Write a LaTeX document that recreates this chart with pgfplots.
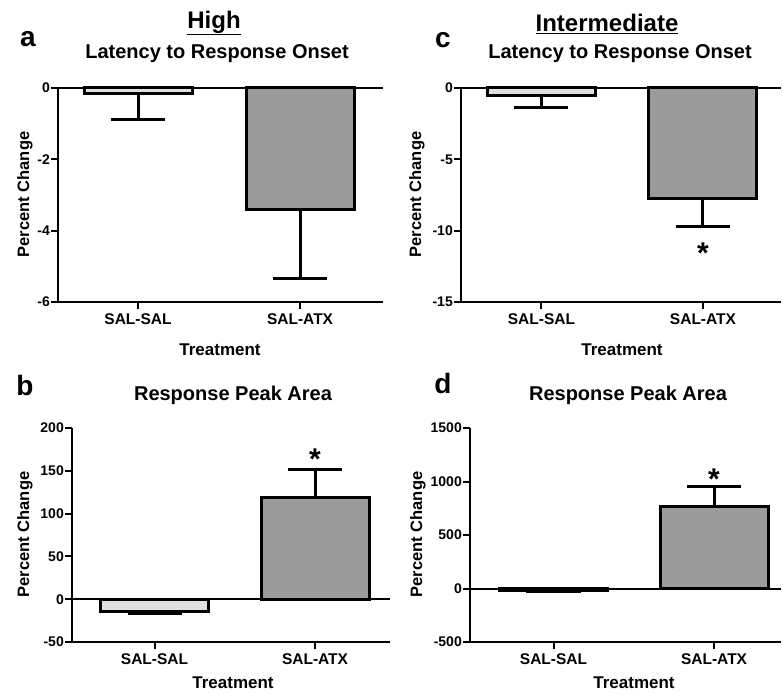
\documentclass[border=0pt]{standalone}
\usepackage{pgfplots}
\pgfplotsset{compat=1.18}
\usepackage{fontspec}
\setmainfont{Liberation Sans}
\definecolor{lightbar}{HTML}{E0E0E0}
\definecolor{darkbar}{HTML}{9A9B9A}
\newcommand{\fs}[1]{\fontsize{#1}{#1}\selectfont\bfseries}
\pgfplotsset{
  panel/.style={
    scale only axis, height=214pt,
    axis lines*=left,
    axis line style={line width=2pt, black},
    tick align=outside, major tick length=7pt,
    tick style={line width=2pt, black},
    xtick={0,1}, xticklabels={SAL-SAL,SAL-ATX},
    xticklabel style={font=\fs{15.5}, yshift=-1pt},
    yticklabel style={font=\fs{14}, inner xsep=1pt},
    /pgf/number format/assume math mode=true,
    /pgf/number format/set thousands separator={},
    ybar, bar width=108pt, bar shift=0pt,
    clip=false,
    extra y ticks={0}, extra y tick labels={},
    extra y tick style={grid=major, major grid style={line width=2pt, black}},
    error bars/error bar style={line width=3pt, black},
    error bars/error mark options={line width=3pt, black, mark size=27pt, rotate=90},
  },
  lbar/.style={fill=lightbar, draw=black, line width=3pt},
  dbar/.style={fill=darkbar, draw=black, line width=3pt},
}
\tikzset{star/.style={font=\fs{30}, yshift=-8pt}}
\begin{document}
\begin{tikzpicture}[x=1pt,y=1pt]
\useasboundingbox (0,0) rectangle (783,693);
% panel a
\begin{axis}[panel, at={(58pt,391pt)}, anchor=south west, width=325pt,
  xmin=-0.494, xmax=1.512, ymin=-6, ymax=0, ytick={-6,-4,-2,0}]
\addplot+[lbar, error bars/.cd, y dir=minus, y explicit] coordinates {(0,-0.15) -= (0,0.72)};
\addplot+[dbar, error bars/.cd, y dir=minus, y explicit] coordinates {(1,-3.41) -= (0,1.92)};
\end{axis}
% panel c
\begin{axis}[panel, at={(461pt,391pt)}, anchor=south west, width=320pt,
  xmin=-0.498, xmax=1.483, ymin=-15, ymax=0, ytick={-15,-10,-5,0}]
\addplot+[lbar, error bars/.cd, y dir=minus, y explicit] coordinates {(0,-0.56) -= (0,0.84)};
\addplot+[dbar, error bars/.cd, y dir=minus, y explicit] coordinates {(1,-7.74) -= (0,1.96)};
\node[star] at (axis cs:1,-11.0) {*};
\end{axis}
% panel b
\begin{axis}[panel, at={(72pt,51pt)}, anchor=south west, width=318pt,
  xmin=-0.514, xmax=1.467, ymin=-50, ymax=200, ytick={-50,0,50,100,150,200}]
\addplot+[lbar, error bars/.cd, y dir=minus, y explicit] coordinates {(0,-14) -= (0,3)};
\addplot+[dbar, error bars/.cd, y dir=plus, y explicit] coordinates {(1,119) += (0,33)};
\node[star] at (axis cs:1,173) {*};
\end{axis}
% panel d
\begin{axis}[panel, at={(470pt,51pt)}, anchor=south west, width=311pt,
  xmin=-0.52, xmax=1.417, ymin=-500, ymax=1500, ytick={-500,0,500,1000,1500}]
\addplot+[lbar, error bars/.cd, y dir=minus, y explicit] coordinates {(0,-20) -= (0,10)};
\addplot+[dbar, error bars/.cd, y dir=plus, y explicit] coordinates {(1,763) += (0,186)};
\node[star] at (axis cs:1,1098) {*};
\end{axis}
% texts
\node[font=\fs{24}] at (214,670) {\underline{High}};
\node[font=\fs{24}] at (607,669) {\underline{Intermediate}};
\node[font=\fs{28}] at (28,654) {a};
\node[font=\fs{28}] at (443,653) {c};
\node[font=\fs{28}] at (25,308) {b};
\node[font=\fs{28}] at (443,310) {d};
\node[font=\fs{20}] at (217,639) {Latency to Response Onset};
\node[font=\fs{20}] at (620,639) {Latency to Response Onset};
\node[font=\fs{20}] at (233,298) {Response Peak Area};
\node[font=\fs{20}] at (628,298) {Response Peak Area};
\node[font=\fs{16.5}, rotate=90] at (25,498.5) {Percent Change};
\node[font=\fs{16.5}, rotate=90] at (417,498.5) {Percent Change};
\node[font=\fs{16.5}, rotate=90] at (25,158.5) {Percent Change};
\node[font=\fs{16.5}, rotate=90] at (418,158.5) {Percent Change};
\node[font=\fs{17}] at (220,343) {Treatment};
\node[font=\fs{17}] at (622,343) {Treatment};
\node[font=\fs{17}] at (233,10) {Treatment};
\node[font=\fs{17}] at (634,10) {Treatment};
\end{tikzpicture}
\end{document}
